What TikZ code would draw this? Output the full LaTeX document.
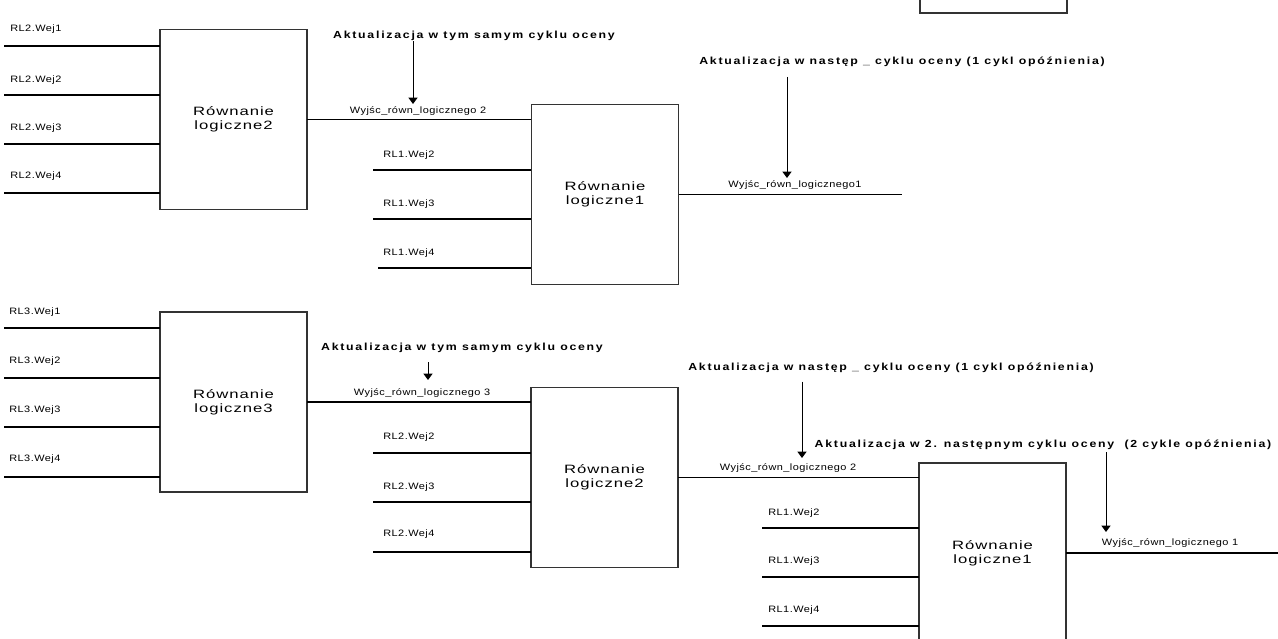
\documentclass[tikz,border=0pt]{standalone}
\usepackage{fontspec}
\setmainfont{Liberation Sans}
\newfontfamily\lblfont[FakeStretch=1.18,LetterSpace=5]{Liberation Sans}
\newfontfamily\boxfont[FakeStretch=1.38,LetterSpace=8]{Liberation Sans}
\newfontfamily\notefont[FakeStretch=1.2,LetterSpace=17]{Liberation Sans}
\usetikzlibrary{arrows.meta,positioning}

\begin{document}
\begin{tikzpicture}[x=0.025cm,y=-0.025cm,
  eqbox/.style={draw=black!80,line width=1pt,minimum width=3.675cm,minimum height=4.5cm,inner sep=0pt,outer sep=0pt,align=center,font=\boxfont\fontsize{8.6}{10}\selectfont},
  inlbl/.style={anchor=west,inner sep=0pt,font=\lblfont\fontsize{6.6}{8}\selectfont},
  outlbl/.style={inner sep=0pt,font=\lblfont\fontsize{6.6}{8}\selectfont},
  note/.style={inner sep=0pt,font=\notefont\bfseries\fontsize{7.3}{9}\selectfont},
  wire/.style={line width=1pt},
  upd/.style={-{Triangle[width=6.4pt,length=4.5pt]},line width=.7pt}]
 \useasboundingbox (0,0) rectangle (1278,639);
 \clip (0,0) rectangle (1278,639);
 % upper chain: RL2 -> RL1
 \node[eqbox] (rl2a) at (233.5,119.5) {Równanie\\logiczne2};
 \node[eqbox] (rl1a) at (605,194.5) {Równanie\\logiczne1};
 \node[eqbox] (rlx) at (993.5,-77) {};
 \coordinate (i21) at (4,46);
 \coordinate (i22) at (4,95);
 \coordinate (i23) at (4,144);
 \coordinate (i24) at (4,193);
 \coordinate (i12a) at (373,170);
 \coordinate (i13a) at (373,219);
 \coordinate (i14a) at (378,268);
 \coordinate (o1a) at (902,196);
 \draw[wire] (i21) -- (i21 -| rl2a.west);
 \draw[wire] (i22) -- (i22 -| rl2a.west);
 \draw[wire] (i23) -- (i23 -| rl2a.west);
 \draw[wire] (i24) -- (i24 -| rl2a.west);
 \draw[wire] (i12a) -- (i12a -| rl1a.west);
 \draw[wire] (i13a) -- (i13a -| rl1a.west);
 \draw[wire] (i14a) -- (i14a -| rl1a.west);
 \draw[wire] (rl2a.east) -- (rl2a.east -| rl1a.west);
 \draw[wire] (rl1a.east) -- (rl1a.east -| o1a);
 \node[inlbl] (l21) at (10,29) {RL2.Wej1};
 \node[inlbl] (l22) at (10,80) {RL2.Wej2};
 \node[inlbl] (l23) at (10,128) {RL2.Wej3};
 \node[inlbl] (l24) at (10,176) {RL2.Wej4};
 \node[inlbl] (l12a) at (383,155) {RL1.Wej2};
 \node[inlbl] (l13a) at (383,204) {RL1.Wej3};
 \node[inlbl] (l14a) at (383,253) {RL1.Wej4};
 \node[note] (ha1) at (474,36) {Aktualizacja w tym samym cyklu oceny};
 \node[note] (ha2) at (902,62) {Aktualizacja w następ \_ cyklu oceny (1 cykl opóźnienia)};
 \node[outlbl] (wa2) at (418,111) {Wyjśc\_równ\_logicznego 2};
 \node[outlbl] (wa1) at (795,185) {Wyjśc\_równ\_logicznego1};
 \coordinate (ta1) at (413,104);
 \coordinate (ta2) at (787,178);
 \draw[upd] (ha1.south -| ta1) -- (ta1);
 \draw[upd,shorten <=7pt] (ha2.south -| ta2) -- (ta2);
 % lower chain: RL3 -> RL2 -> RL1
 \node[eqbox] (rl3b) at (233.5,402) {Równanie\\logiczne3};
 \node[eqbox] (rl2b) at (604.5,477.5) {Równanie\\logiczne2};
 \node[eqbox] (rl1b) at (992.5,553) {Równanie\\logiczne1};
 \coordinate (i31) at (4,328);
 \coordinate (i32) at (4,378);
 \coordinate (i33) at (4,427);
 \coordinate (i34) at (4,477);
 \coordinate (i22b) at (373,453);
 \coordinate (i23b) at (373,502);
 \coordinate (i24b) at (373,552);
 \coordinate (i12b) at (762,528);
 \coordinate (i13b) at (762,577);
 \coordinate (i14b) at (762,626);
 \coordinate (o1b) at (1278,555);
 \draw[wire] (i31) -- (i31 -| rl3b.west);
 \draw[wire] (i32) -- (i32 -| rl3b.west);
 \draw[wire] (i33) -- (i33 -| rl3b.west);
 \draw[wire] (i34) -- (i34 -| rl3b.west);
 \draw[wire] (i22b) -- (i22b -| rl2b.west);
 \draw[wire] (i23b) -- (i23b -| rl2b.west);
 \draw[wire] (i24b) -- (i24b -| rl2b.west);
 \draw[wire] (i12b) -- (i12b -| rl1b.west);
 \draw[wire] (i13b) -- (i13b -| rl1b.west);
 \draw[wire] (i14b) -- (i14b -| rl1b.west);
 \draw[wire] (rl3b.east) -- (rl3b.east -| rl2b.west);
 \draw[wire] (rl2b.east) -- (rl2b.east -| rl1b.west);
 \draw[wire] (rl1b.east) -- (rl1b.east -| o1b);
 \node[inlbl] (l31) at (9,312) {RL3.Wej1};
 \node[inlbl] (l32) at (9,361) {RL3.Wej2};
 \node[inlbl] (l33) at (9,410) {RL3.Wej3};
 \node[inlbl] (l34) at (9,459) {RL3.Wej4};
 \node[inlbl] (l22b) at (383,437) {RL2.Wej2};
 \node[inlbl] (l23b) at (383,487) {RL2.Wej3};
 \node[inlbl] (l24b) at (383,534) {RL2.Wej4};
 \node[inlbl] (l12b) at (768,513) {RL1.Wej2};
 \node[inlbl] (l13b) at (768,561) {RL1.Wej3};
 \node[inlbl] (l14b) at (768,610) {RL1.Wej4};
 \node[note] (hb1) at (462,348) {Aktualizacja w tym samym cyklu oceny};
 \node[note] (hb2) at (891,368) {Aktualizacja w następ \_ cyklu oceny (1 cykl opóźnienia)};
 \node[note] (hb3) at (1043,445) {Aktualizacja w 2. następnym cyklu oceny~ (2 cykle opóźnienia\,)};
 \node[outlbl] (wb3) at (422,393) {Wyjśc\_równ\_logicznego 3};
 \node[outlbl] (wb2) at (788,468) {Wyjśc\_równ\_logicznego 2};
 \node[outlbl] (wb1) at (1170,543) {Wyjśc\_równ\_logicznego 1};
 \coordinate (tb1) at (428,380);
 \coordinate (tb2) at (802,458);
 \coordinate (tb3) at (1106,532);
 \draw[upd,shorten <=6.5pt] (hb1.south -| tb1) -- (tb1);
 \draw[upd,shorten <=6pt] (hb2.south -| tb2) -- (tb2);
 \draw[upd,shorten <=1.5pt] (hb3.south -| tb3) -- (tb3);
\end{tikzpicture}
\end{document}
